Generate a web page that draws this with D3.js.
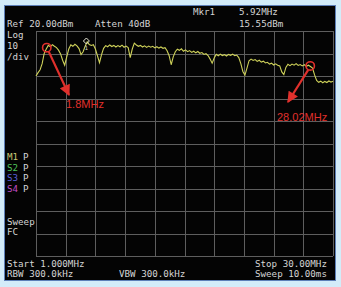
<!DOCTYPE html>
<html><head><meta charset="utf-8">
<script src="https://cdn.jsdelivr.net/npm/d3@7"></script>
<style>html,body{margin:0;padding:0;background:#d3ecf9;}svg{display:block;}</style>
</head><body>
<script>
const startMHz = 1.0, stopMHz = 30.0;
const refDbm = 20, dbPerDiv = 10, divisions = 10;
// trace levels (dBm), evenly spaced sweep from start to stop
const levelDbm = [
 0.0,1.5,2.8,5.5,10.0,12.0,13.6,13.0,13.9,13.2,
 12.6,11.5,9.8,7.0,4.8,8.5,12.0,13.9,13.2,14.1,
 13.4,12.2,9.5,10.8,13.2,15.2,14.0,13.6,13.9,12.0,
 9.0,5.9,9.5,12.3,13.5,13.0,13.8,13.1,13.6,12.9,
 13.5,13.0,13.7,12.8,13.3,12.6,8.2,12.0,14.6,13.8,
 13.2,13.6,12.9,13.4,12.7,13.3,12.8,13.2,12.5,13.0,
 12.4,12.9,12.3,12.6,11.2,9.0,5.0,8.5,10.8,11.9,
 11.4,12.1,11.0,11.6,10.8,11.3,10.5,11.0,10.3,10.9,
 10.1,10.4,9.6,9.9,9.1,7.5,5.7,8.0,9.6,9.0,
 9.7,9.1,9.5,8.9,9.6,9.2,9.7,9.0,9.3,8.2,
 5.5,2.0,0.4,3.5,6.8,7.5,6.9,7.3,6.5,7.0,
 6.2,6.6,5.8,6.1,5.3,5.7,4.9,5.4,4.8,4.5,
 1.8,0.6,3.8,5.2,4.6,5.3,4.8,5.5,4.7,5.1,
 4.5,5.0,4.3,4.8,4.2,3.5,0.5,-2.0,-2.8,-2.3,
 -3.0,-2.4,-2.9,-2.2,-2.7,-2.3
];
const marker = {label:"1", freqMHz:5.92, levelDbm:15.55};
const annotations = [
  {text:"1.8MHz", freqMHz:2.1, levelDbm:12.6},
  {text:"28.02MHz", freqMHz:28.02, levelDbm:4.5}
];
const headerTexts = [
  {t:"Mkr1", x:193, y:15},{t:"5.92MHz", x:239, y:15},
  {t:"Ref 20.00dBm", x:7, y:27},{t:"Atten 40dB", x:95, y:27},{t:"15.55dBm", x:239, y:27},
  {t:"Log", x:7, y:38},{t:"10", x:7, y:49},{t:"/div", x:7, y:60},
  {t:"Sweep", x:7, y:225},{t:"FC", x:7, y:235},
  {t:"Start 1.000MHz", x:7, y:267},{t:"Stop 30.00MHz", x:255, y:267},
  {t:"RBW 300.0kHz", x:7, y:277},{t:"VBW 300.0kHz", x:119, y:277},{t:"Sweep 10.00ms", x:255, y:277}
];
const traceLabels = [
  {n:"M1", c:"#c9c877", y:160},{n:"S2", c:"#4fc25a", y:170.5},
  {n:"S3", c:"#5a5fd8", y:181},{n:"S4", c:"#c04cc4", y:191.5}
];

const W=341,H=287;
const svg=d3.select("body").append("svg").attr("width",W).attr("height",H);
svg.append("rect").attr("x",4.5).attr("y",5.5).attr("width",331).attr("height",275)
  .attr("fill","#040404").attr("stroke","#5d7fb8").attr("stroke-width",1);

const gx0=36, gx1=333, gy0=31, gy1=256;
const x=d3.scaleLinear().domain([startMHz,stopMHz]).range([gx0,gx1]);
const y=d3.scaleLinear().domain([refDbm-dbPerDiv*divisions, refDbm]).range([gy1,gy0]);

const grid=svg.append("g").attr("stroke","#5e5e5e").attr("stroke-width",1);
const xt=d3.range(divisions+1).map(i=>startMHz+i*(stopMHz-startMHz)/divisions);
const yt=d3.range(divisions+1).map(i=>refDbm-i*dbPerDiv);
grid.selectAll("line.v").data(xt).join("line").attr("class","v")
  .attr("x1",d=>Math.round(x(d))+0.5).attr("x2",d=>Math.round(x(d))+0.5).attr("y1",gy0).attr("y2",gy1);
grid.selectAll("line.h").data(yt).join("line").attr("class","h")
  .attr("y1",d=>Math.round(y(d))+0.5).attr("y2",d=>Math.round(y(d))+0.5).attr("x1",gx0).attr("x2",gx1);

const n=levelDbm.length;
const fAt=i=>startMHz+i*(stopMHz-startMHz)/(n-1);
const line=d3.line().x((d,i)=>x(fAt(i))).y(d=>y(d));
svg.append("path").datum(levelDbm).attr("d",line).attr("fill","none")
  .attr("stroke","#cfd25a").attr("stroke-width",1.1);

// marker
const mx=x(marker.freqMHz), my=y(marker.levelDbm);
svg.append("path").attr("d",`M${mx},${my-3}L${mx+3},${my}L${mx},${my+3}L${mx-3},${my}Z`)
  .attr("fill","none").attr("stroke","#e8e8d8").attr("stroke-width",1);
svg.append("text").attr("x",mx).attr("y",my+9).attr("text-anchor","middle")
  .attr("font-family","DejaVu Sans Mono").attr("font-size",6).attr("fill","#d0d0c0").text(marker.label);

const font="DejaVu Sans Mono", fs=9.2, tc="#d4d4d4";
svg.selectAll("text.h").data(headerTexts).join("text").attr("class","h")
  .attr("x",d=>d.x).attr("y",d=>d.y).attr("font-family",font).attr("font-size",fs)
  .attr("fill",tc).text(d=>d.t);
traceLabels.forEach(d=>{
  svg.append("text").attr("x",7).attr("y",d.y).attr("font-family",font).attr("font-size",fs)
    .attr("fill",d.c).text(d.n);
  svg.append("text").attr("x",23).attr("y",d.y).attr("font-family",font).attr("font-size",fs)
    .attr("fill",tc).text("P");
});

// red annotations
const red="#e0302c";
const defs=svg.append("defs");
defs.append("marker").attr("id","ah").attr("viewBox","0 0 10 10").attr("refX",9).attr("refY",5)
  .attr("markerWidth",5.5).attr("markerHeight",5).attr("orient","auto").attr("markerUnits","strokeWidth")
  .append("path").attr("d","M0,0L10,5L0,10Z").attr("fill",red);
const a1=annotations[0], a2=annotations[1];
const c1={x:x(a1.freqMHz)-0.5,y:y(a1.levelDbm)}, c2={x:x(a2.freqMHz)-2.5,y:y(a2.levelDbm)};
[c1,c2].forEach(c=>svg.append("circle").attr("cx",c.x).attr("cy",c.y).attr("r",4.2)
  .attr("fill","none").attr("stroke",red).attr("stroke-width",1.6));
svg.append("line").attr("x1",c1.x+2).attr("y1",c1.y+4).attr("x2",69).attr("y2",95)
  .attr("stroke",red).attr("stroke-width",2.2).attr("marker-end","url(#ah)");
svg.append("line").attr("x1",c2.x-2).attr("y1",c2.y+4).attr("x2",288).attr("y2",102)
  .attr("stroke",red).attr("stroke-width",2.2).attr("marker-end","url(#ah)");
svg.append("text").attr("x",66).attr("y",108).attr("font-family","Liberation Sans, Arial")
  .attr("font-size",11).attr("fill",red).text(a1.text);
svg.append("text").attr("x",277).attr("y",121).attr("font-family","Liberation Sans, Arial")
  .attr("font-size",11).attr("fill",red).text(a2.text);
</script>
</body></html>
